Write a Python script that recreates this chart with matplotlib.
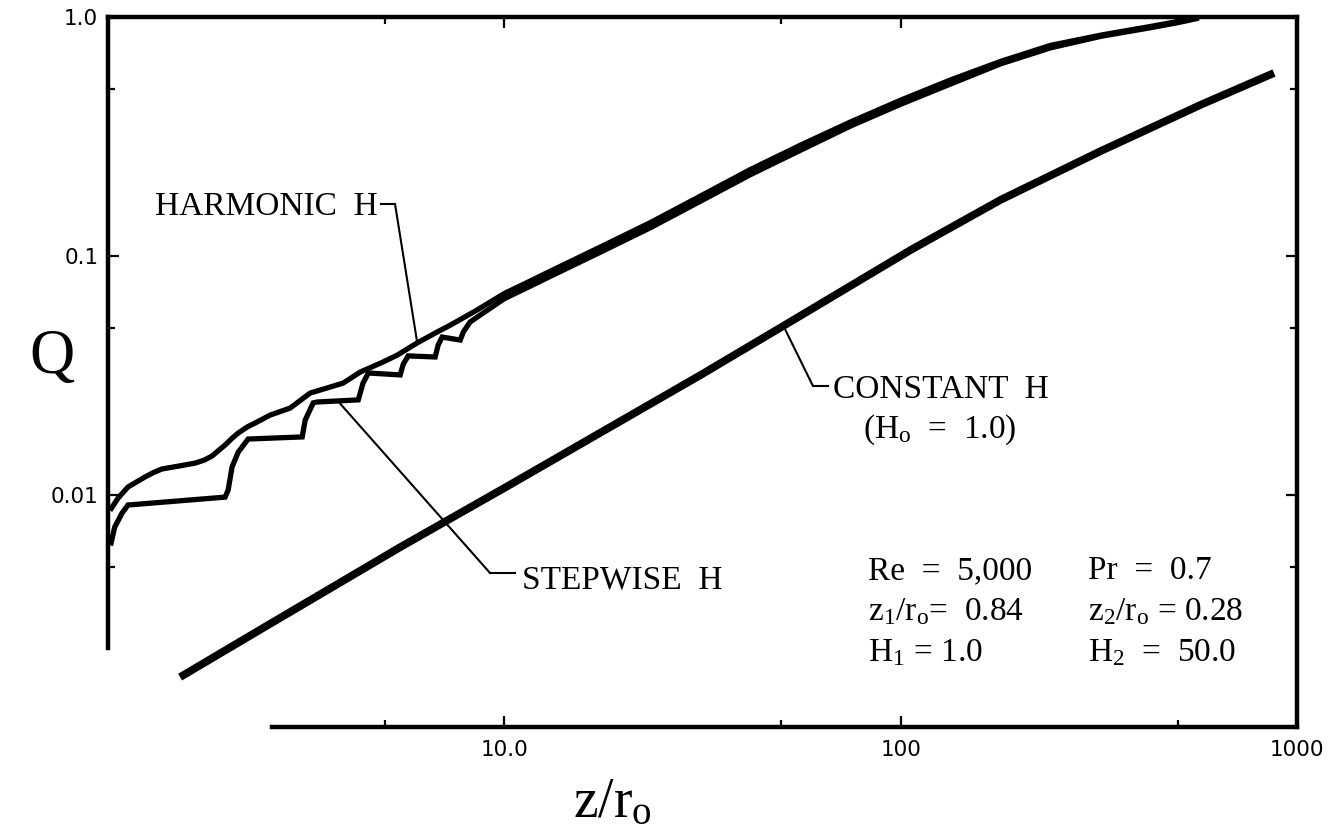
import numpy as np
import matplotlib
matplotlib.use("Agg")
import matplotlib.pyplot as plt
from matplotlib.ticker import FixedLocator, FixedFormatter, NullFormatter

plt.rcParams["font.family"] = ["Liberation Serif", "DejaVu Serif"]
plt.rcParams["mathtext.default"] = "regular"

# ---- data: Q versus z/r_o ----
z_const = [1.52, 2.5, 5.46, 10.0, 31.3, 50.6, 106, 179, 320, 573, 875]
q_const = [0.00173, 0.00282, 0.00605, 0.0107, 0.0318, 0.0510, 0.106, 0.172, 0.275, 0.43, 0.583]

z_harm = [1.02, 1.06, 1.123, 1.24, 1.30, 1.368, 1.502, 1.659, 1.75, 1.83, 1.975,
          2.05, 2.13, 2.25, 2.35, 2.565, 2.88, 3.236, 3.636, 3.92, 4.33, 4.94, 5.37,
          6.03, 6.77, 7.31, 8.5, 10.0, 11.3, 13.1, 17.4, 23.4, 31.3, 41.8, 55.9,
          74.8, 100, 133.7, 179, 239, 320, 428, 501, 557]
q_harm = [0.0088, 0.0097, 0.0108, 0.0119, 0.0124, 0.01285, 0.0132, 0.0136, 0.0140,
          0.01456, 0.0162, 0.0172, 0.01817, 0.0193, 0.0200, 0.0216, 0.0231, 0.0267,
          0.0283, 0.0294, 0.0327, 0.0360, 0.0385, 0.0433, 0.0481, 0.0514, 0.0592,
          0.0697, 0.0768, 0.0866, 0.1087, 0.1382, 0.1784, 0.2302, 0.2911, 0.3641,
          0.4488, 0.5457, 0.6527, 0.7610, 0.8400, 0.9134, 0.9587, 0.9959]

z_step = [1.018, 1.04, 1.085, 1.123, 1.975, 2.01, 2.056, 2.13, 2.257, 3.09, 3.145,
          3.295, 3.37, 4.28, 4.40, 4.54, 5.46, 5.56, 5.72, 6.69, 6.81, 6.97, 7.74,
          7.88, 8.2, 10.0, 11.3, 13.1, 17.4, 23.4, 31.3, 41.8, 55.9, 74.8, 100,
          133.7, 179, 239, 320, 428, 501, 557]
q_step = [0.0063, 0.00735, 0.0084, 0.00908, 0.0098, 0.0105, 0.0131, 0.0151, 0.01715,
          0.0175, 0.0206, 0.0243, 0.0245, 0.0250, 0.0294, 0.0324, 0.0318, 0.0353,
          0.0382, 0.0378, 0.0425, 0.0458, 0.0445, 0.0481, 0.0530, 0.0663, 0.0731,
          0.0824, 0.1034, 0.1315, 0.1698, 0.2191, 0.2771, 0.3500, 0.4314, 0.5245,
          0.6374, 0.7430, 0.8300, 0.9026, 0.9473, 0.9841]

x_major = [10, 100, 1000]
x_major_labels = ["10.0", "100", "1000"]
x_minor = [5, 50, 500]
y_major = [0.01, 0.1, 1.0]
y_major_labels = ["0.01", "0.1", "1.0"]
y_minor = [0.005, 0.05, 0.5]

params_left = ["Re  =  5,000", "z$_1$/r$_o$=  0.84", "H$_1$ = 1.0"]
params_right = ["Pr  =  0.7", "z$_2$/r$_o$ = 0.28", "H$_2$  =  50.0"]


def on_curve(zs, qs, z):
    """Point on a curve at abscissa z (log-log interpolation)."""
    q = 10 ** np.interp(np.log10(z), np.log10(zs), np.log10(qs))
    return z, q


W, H = 1334, 835
fig = plt.figure(figsize=(W / 100, H / 100), dpi=100)
ax = fig.add_axes([108 / W, 108 / H, 1189 / W, 710 / H])
ax.set_xscale("log")
ax.set_yscale("log")
ax.set_xlim(1.0, 1000)
ax.set_ylim(0.00107, 1.0)

ax.plot(z_const, q_const, color="black", lw=5.6, solid_capstyle="butt")
ax.plot(z_harm, q_harm, color="black", lw=3.8, solid_joinstyle="round")
ax.plot(z_step, q_step, color="black", lw=3.8, solid_joinstyle="miter")

# axes frame
for side in ["left", "right", "top", "bottom"]:
    ax.spines[side].set_linewidth(3.2)
ax.spines["left"].set_bounds(0.0023, 1.0)
ax.spines["bottom"].set_bounds(2.6, 1000)

ax.xaxis.set_major_locator(FixedLocator(x_major))
ax.xaxis.set_major_formatter(FixedFormatter(x_major_labels))
ax.xaxis.set_minor_locator(FixedLocator(x_minor))
ax.xaxis.set_minor_formatter(NullFormatter())
ax.yaxis.set_major_locator(FixedLocator(y_major))
ax.yaxis.set_major_formatter(FixedFormatter(y_major_labels))
ax.yaxis.set_minor_locator(FixedLocator(y_minor))
ax.yaxis.set_minor_formatter(NullFormatter())

ax.tick_params(which="both", direction="in", top=True, right=True, width=1.6)
ax.tick_params(which="major", length=8, labelsize=15.5, labelfontfamily="DejaVu Sans")
ax.tick_params(which="minor", length=5)
ax.tick_params(axis="x", which="major", pad=9)
ax.tick_params(axis="y", which="major", pad=7)

# axis titles
fig.text(52 / W, 1 - 358 / H, "Q", fontsize=45, ha="center", va="center")
fig.text(612 / W, 1 - 817 / H, "z/r$_o$", fontsize=40, ha="center", va="baseline")

# curve labels with leader lines
lead_kw = dict(color="black", lw=1.5)
txt_kw = dict(fontsize=24, transform=ax.transAxes, va="baseline")

ax.text(0.2271, 0.7211, "HARMONIC  H", ha="right", **txt_kw)
ax.plot([0.2296, 0.2414], [0.7366, 0.7366], transform=ax.transAxes, **lead_kw)
ax.annotate("", xy=on_curve(z_harm, q_harm, 6.03), xycoords="data",
            xytext=(0.2414, 0.7366), textcoords="axes fraction",
            arrowprops=dict(arrowstyle="-", shrinkA=0, shrinkB=0, **lead_kw))

ax.text(0.3482, 0.195, "STEPWISE  H", ha="left", **txt_kw)
ax.plot([0.3213, 0.3423], [0.2169, 0.2169], transform=ax.transAxes, **lead_kw)
ax.annotate("", xy=on_curve(z_step, q_step, 3.8), xycoords="data",
            xytext=(0.3213, 0.2169), textcoords="axes fraction",
            arrowprops=dict(arrowstyle="-", shrinkA=0, shrinkB=0, **lead_kw))

ax.text(0.6098, 0.4634, "CONSTANT  H", ha="left", **txt_kw)
ax.text(0.6997, 0.4070, "(H$_o$  =  1.0)", ha="center", **txt_kw)
ax.plot([0.5929, 0.6056], [0.4803, 0.4803], transform=ax.transAxes, **lead_kw)
ax.annotate("", xy=on_curve(z_const, q_const, 50.6), xycoords="data",
            xytext=(0.5929, 0.4803), textcoords="axes fraction",
            arrowprops=dict(arrowstyle="-", shrinkA=0, shrinkB=0, **lead_kw))

# parameter block
for i, (a, b) in enumerate(zip(params_left, params_right)):
    y = 0.2085 - i * 0.0578
    ax.text(0.6392, y, a, ha="left", **txt_kw)
    ax.text(0.8242, y, b, ha="left", **txt_kw)

fig.savefig("out.png", dpi=100)
